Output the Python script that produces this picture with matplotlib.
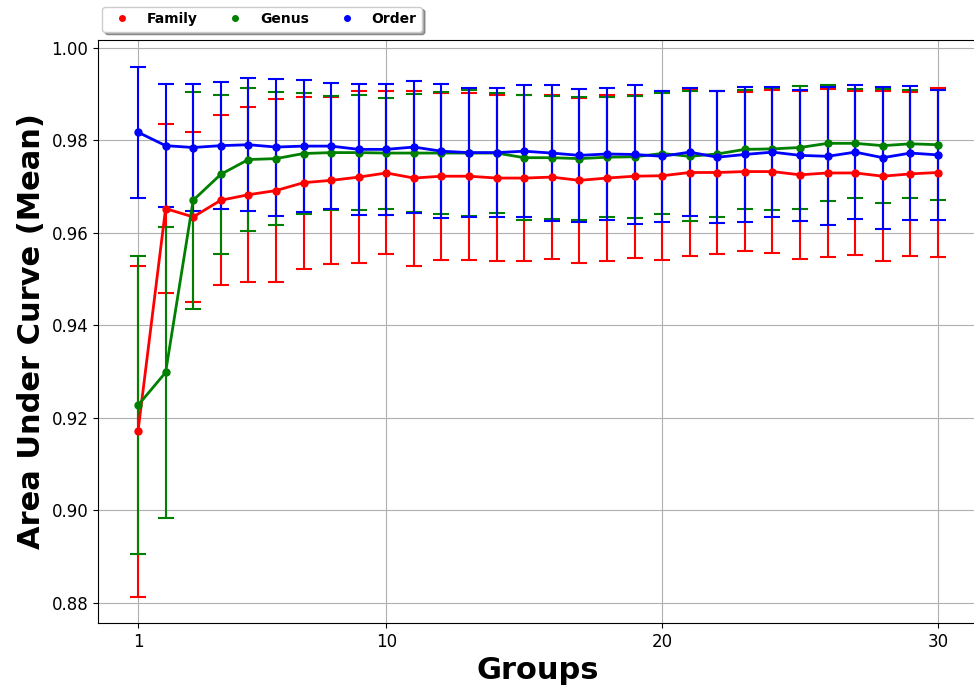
import numpy as np
import matplotlib.pyplot as plt
from matplotlib.lines import Line2D

groups = list(range(1, 31))

family_mean = [0.9171, 0.9652, 0.9634, 0.9670, 0.9682, 0.9691, 0.9708, 0.9713, 0.9720, 0.9729,
               0.9718, 0.9722, 0.9722, 0.9718, 0.9718, 0.9720, 0.9713, 0.9718, 0.9722, 0.9723,
               0.9730, 0.9730, 0.9732, 0.9732, 0.9725, 0.9729, 0.9729, 0.9722, 0.9727, 0.9730]
family_std = [0.0357, 0.0183, 0.0184, 0.0184, 0.0189, 0.0198, 0.0186, 0.0180, 0.0186, 0.0176,
              0.0189, 0.0180, 0.0180, 0.0179, 0.0179, 0.0177, 0.0178, 0.0179, 0.0176, 0.0182,
              0.0180, 0.0177, 0.0172, 0.0176, 0.0181, 0.0181, 0.0178, 0.0183, 0.0177, 0.0182]

genus_mean = [0.9227, 0.9298, 0.9670, 0.9726, 0.9758, 0.9760, 0.9771, 0.9773, 0.9773, 0.9772,
              0.9772, 0.9772, 0.9772, 0.9772, 0.9762, 0.9762, 0.9760, 0.9763, 0.9764, 0.9771,
              0.9765, 0.9770, 0.9780, 0.9781, 0.9784, 0.9793, 0.9793, 0.9788, 0.9792, 0.9790]
genus_std = [0.0322, 0.0314, 0.0234, 0.0171, 0.0155, 0.0143, 0.0130, 0.0123, 0.0125, 0.0120,
             0.0127, 0.0131, 0.0137, 0.0130, 0.0135, 0.0133, 0.0133, 0.0130, 0.0132, 0.0130,
             0.0140, 0.0136, 0.0128, 0.0131, 0.0132, 0.0125, 0.0118, 0.0123, 0.0117, 0.0119]

order_mean = [0.9817, 0.9788, 0.9784, 0.9788, 0.9790, 0.9785, 0.9787, 0.9787, 0.9780, 0.9780,
              0.9785, 0.9776, 0.9773, 0.9773, 0.9776, 0.9772, 0.9767, 0.9770, 0.9769, 0.9765,
              0.9774, 0.9763, 0.9769, 0.9774, 0.9767, 0.9765, 0.9774, 0.9762, 0.9772, 0.9768]
order_std = [0.0142, 0.0133, 0.0138, 0.0137, 0.0144, 0.0148, 0.0143, 0.0136, 0.0141, 0.0141,
             0.0143, 0.0145, 0.0140, 0.0140, 0.0142, 0.0147, 0.0144, 0.0143, 0.0151, 0.0141,
             0.0138, 0.0143, 0.0145, 0.0140, 0.0141, 0.0149, 0.0144, 0.0153, 0.0144, 0.0141]

series = [("Family", family_mean, family_std, "red"),
          ("Genus", genus_mean, genus_std, "green"),
          ("Order", order_mean, order_std, "blue")]

fig = plt.figure(figsize=(9.74, 6.88), dpi=100)
ax = fig.add_axes([98 / 974, 65 / 688, 880 / 974, 583 / 688])

for name, m, s, c in series:
    ax.errorbar(groups, m, yerr=s, color=c, marker="o", markersize=5,
                linewidth=2, elinewidth=1.5, capsize=6, capthick=1.5)

ax.set_xticks([1, 10, 20, 30])
ax.tick_params(axis="both", labelsize=12)
ax.yaxis.set_major_formatter(plt.FormatStrFormatter("%.2f"))
ax.grid(True)
ax.set_xlabel("Groups", fontsize=22, fontweight="bold")
ax.set_ylabel("Area Under Curve (Mean)", fontsize=22, fontweight="bold")

handles = [Line2D([], [], color=c, marker="o", linestyle="none", markersize=4)
           for _, _, _, c in series]
ax.legend(handles, [n for n, _, _, _ in series], loc="lower left",
          bbox_to_anchor=(0.005, 1.014), ncol=3, shadow=True, fancybox=True,
          prop={"weight": "bold", "size": 10}, columnspacing=1.7, borderaxespad=0,
          handletextpad=0.8)

plt.savefig("out.png", dpi=100)
